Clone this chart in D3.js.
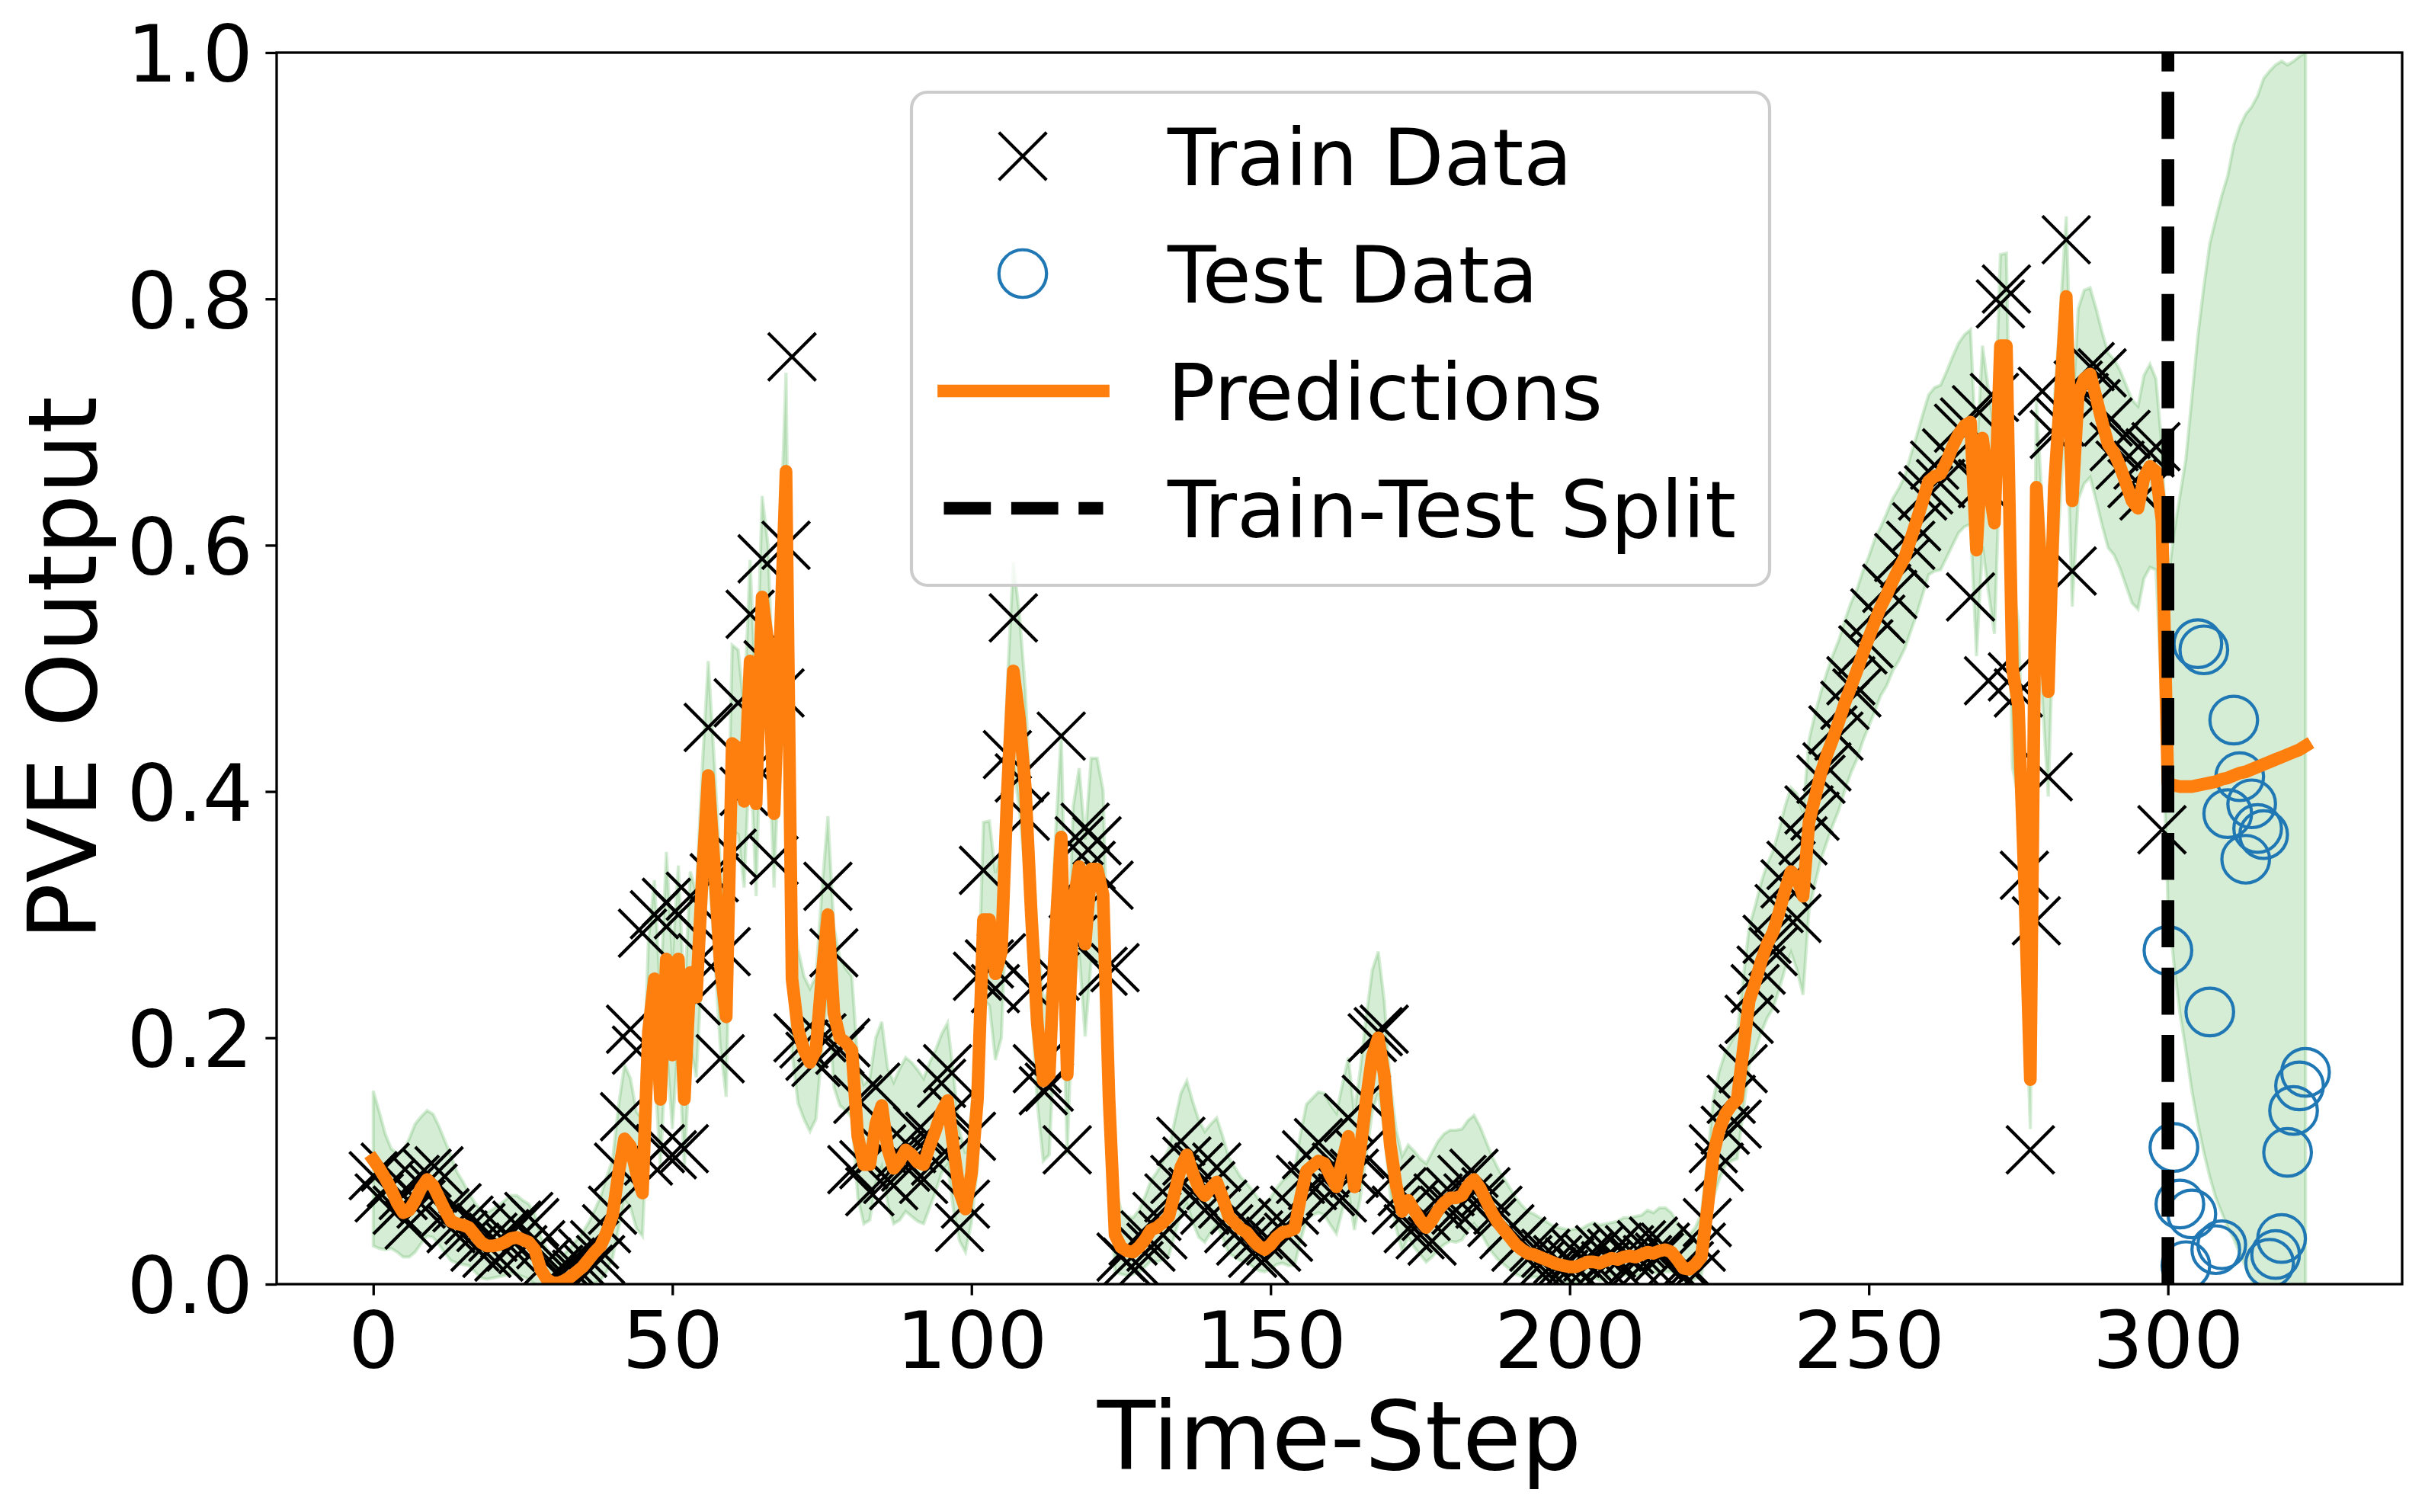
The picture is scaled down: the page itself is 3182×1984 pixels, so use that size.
<!DOCTYPE html>
<html>
<head>
<meta charset="utf-8">
<script src="https://cdn.jsdelivr.net/npm/d3@7"></script>
<style>
body { margin: 0; background: #fff; }
svg { display: block; }
text { font-family: "DejaVu Sans", sans-serif; fill: #000; }
</style>
</head>
<body>
<svg width="3182" height="1984"></svg>
<script>
var splitStep = 300;
var testStart = 300;
var xTicks = [0, 50, 100, 150, 200, 250, 300];
var yTicks = [0, 0.2, 0.4, 0.6, 0.8, 1.0];
var legendLabels = ["Train Data", "Test Data", "Predictions", "Train-Test Split"];

var trainValues = [
  0.088,0.070,0.095,0.082,0.060,0.072,0.048,0.085,0.065,0.090,
  0.078,0.092,0.058,0.045,0.062,0.040,0.052,0.030,0.046,0.025,
  0.038,0.022,0.041,0.030,0.048,0.028,0.055,0.050,0.032,0.018,
  0.005,0.012,0.002,0.018,0.008,0.025,0.012,0.032,0.020,0.045,
  0.060,0.095,0.136,0.207,0.190,0.285,0.100,0.300,0.110,0.310,
  0.105,0.300,0.110,0.315,0.230,0.265,0.452,0.330,0.183,0.270,
  0.350,0.472,0.400,0.544,0.420,0.589,0.503,0.344,0.480,0.600,
  0.753,0.200,0.195,0.185,0.180,0.200,0.323,0.269,0.190,0.196,
  0.093,0.150,0.097,0.075,0.160,0.110,0.085,0.080,0.105,0.095,
  0.110,0.125,0.085,0.120,0.100,0.163,0.175,0.140,0.046,0.065,
  0.120,0.250,0.336,0.260,0.240,0.265,0.430,0.541,0.411,0.380,
  0.240,0.175,0.157,0.160,0.250,0.445,0.109,0.280,0.360,0.371,
  0.340,0.360,0.254,0.324,0.257,0.022,0.018,0.035,0.015,0.040,
  0.030,0.055,0.040,0.070,0.085,0.116,0.100,0.075,0.095,0.060,
  0.080,0.095,0.065,0.045,0.060,0.035,0.050,0.025,0.040,0.020,
  0.035,0.030,0.050,0.038,0.060,0.085,0.105,0.080,0.115,0.090,
  0.075,0.095,0.070,0.135,0.090,0.105,0.150,0.200,0.205,0.207,
  0.085,0.060,0.075,0.045,0.065,0.040,0.055,0.035,0.070,0.060,
  0.075,0.060,0.085,0.070,0.090,0.065,0.075,0.050,0.060,0.040,
  0.045,0.030,0.035,0.020,0.030,0.015,0.025,0.010,0.020,0.008,
  0.018,0.025,0.010,0.022,0.012,0.028,0.015,0.025,0.030,0.012,
  0.028,0.018,0.032,0.020,0.035,0.022,0.030,0.018,0.010,0.005,
  0.015,0.008,0.030,0.050,0.110,0.095,0.125,0.150,0.130,0.175,
  0.215,0.240,0.255,0.280,0.270,0.305,0.325,0.340,0.297,0.360,
  0.385,0.380,0.410,0.420,0.450,0.445,0.470,0.490,0.480,0.515,
  0.520,0.545,0.540,0.565,0.560,0.590,0.585,0.600,0.615,0.640,
  0.645,0.665,0.650,0.675,0.670,0.695,0.700,0.558,0.710,0.650,
  0.490,0.720,0.796,0.808,0.493,0.480,0.332,0.109,0.295,0.725,
  0.412,0.690,0.700,0.848,0.579,0.730,0.720,0.745,0.715,0.740,
  0.700,0.680,0.665,0.690,0.650,0.665,0.640,0.675,0.680,0.369
];

var testValues = [
  0.271,0.111,0.065,0.015,0.057,0.520,0.515,0.221,0.028,0.032,
  0.382,0.458,0.412,0.345,0.390,0.370,0.365,0.017,0.024,0.037,
  0.107,0.141,0.161,0.172
];

var predValues = [
  0.101,0.094,0.086,0.077,0.066,0.058,0.060,0.068,0.078,0.085,
  0.080,0.070,0.060,0.051,0.049,0.048,0.046,0.040,0.034,0.031,
  0.031,0.032,0.034,0.037,0.038,0.036,0.034,0.028,0.012,0.004,
  0.001,0.001,0.003,0.006,0.010,0.014,0.020,0.026,0.031,0.042,
  0.056,0.090,0.118,0.112,0.090,0.074,0.205,0.248,0.150,0.264,
  0.186,0.264,0.150,0.253,0.233,0.330,0.413,0.340,0.260,0.217,
  0.439,0.435,0.392,0.506,0.390,0.558,0.520,0.382,0.520,0.660,
  0.248,0.207,0.190,0.180,0.190,0.250,0.300,0.220,0.200,0.196,
  0.190,0.120,0.097,0.097,0.130,0.145,0.110,0.094,0.100,0.109,
  0.105,0.099,0.097,0.112,0.125,0.140,0.149,0.110,0.075,0.061,
  0.090,0.150,0.296,0.296,0.252,0.270,0.400,0.498,0.460,0.403,
  0.300,0.212,0.165,0.170,0.280,0.363,0.170,0.308,0.339,0.276,
  0.337,0.337,0.316,0.150,0.040,0.030,0.027,0.026,0.030,0.036,
  0.044,0.046,0.050,0.055,0.075,0.095,0.105,0.090,0.078,0.072,
  0.078,0.083,0.070,0.055,0.050,0.045,0.042,0.036,0.031,0.028,
  0.032,0.038,0.042,0.043,0.045,0.070,0.092,0.096,0.100,0.098,
  0.088,0.079,0.100,0.120,0.079,0.110,0.150,0.185,0.200,0.170,
  0.113,0.080,0.059,0.068,0.060,0.052,0.046,0.052,0.060,0.066,
  0.070,0.070,0.072,0.080,0.085,0.078,0.068,0.058,0.050,0.044,
  0.038,0.032,0.028,0.025,0.024,0.022,0.020,0.018,0.016,0.015,
  0.014,0.014,0.016,0.018,0.018,0.017,0.019,0.021,0.020,0.022,
  0.023,0.022,0.024,0.026,0.025,0.027,0.028,0.026,0.020,0.013,
  0.012,0.016,0.022,0.060,0.105,0.125,0.138,0.145,0.150,0.190,
  0.230,0.245,0.262,0.276,0.286,0.302,0.320,0.335,0.330,0.315,
  0.375,0.395,0.415,0.430,0.443,0.457,0.472,0.485,0.498,0.512,
  0.525,0.538,0.550,0.560,0.571,0.581,0.590,0.605,0.620,0.636,
  0.652,0.656,0.658,0.668,0.680,0.690,0.697,0.700,0.596,0.687,
  0.650,0.618,0.762,0.762,0.500,0.470,0.330,0.166,0.647,0.560,
  0.481,0.647,0.720,0.802,0.636,0.722,0.735,0.739,0.720,0.700,
  0.682,0.675,0.664,0.650,0.636,0.630,0.655,0.664,0.660,0.620,
  0.407,0.405,0.404,0.404,0.404,0.405,0.406,0.407,0.408,0.410,
  0.411,0.413,0.415,0.416,0.418,0.420,0.422,0.424,0.426,0.428,
  0.430,0.432,0.434,0.437
];

// distance from the prediction to the upper / lower edge of the shaded band
var bandUp = [
  0.056,0.046,0.036,0.033,0.040,0.050,0.058,0.062,0.058,0.056,
  0.058,0.058,0.056,0.053,0.042,0.035,0.028,0.026,0.026,0.027,
  0.030,0.032,0.034,0.035,0.034,0.032,0.031,0.029,0.027,0.025,
  0.022,0.022,0.022,0.024,0.026,0.028,0.030,0.034,0.040,0.045,
  0.045,0.055,0.060,0.055,0.050,0.060,0.075,0.080,0.085,0.087,
  0.080,0.076,0.080,0.082,0.085,0.090,0.093,0.085,0.080,0.075,
  0.080,0.080,0.075,0.082,0.080,0.082,0.080,0.075,0.078,0.080,
  0.070,0.065,0.060,0.060,0.060,0.070,0.080,0.070,0.065,0.060,
  0.060,0.060,0.065,0.070,0.070,0.068,0.065,0.070,0.075,0.075,
  0.075,0.075,0.070,0.068,0.065,0.063,0.063,0.060,0.050,0.045,
  0.050,0.065,0.079,0.080,0.082,0.085,0.088,0.088,0.085,0.080,
  0.075,0.070,0.065,0.070,0.080,0.085,0.075,0.080,0.080,0.085,
  0.090,0.090,0.085,0.070,0.040,0.030,0.028,0.028,0.030,0.035,
  0.040,0.045,0.050,0.055,0.058,0.060,0.060,0.058,0.055,0.052,
  0.052,0.052,0.050,0.048,0.045,0.042,0.040,0.040,0.038,0.038,
  0.038,0.040,0.042,0.045,0.048,0.052,0.054,0.055,0.056,0.057,
  0.058,0.060,0.062,0.064,0.060,0.065,0.068,0.070,0.070,0.060,
  0.050,0.045,0.045,0.045,0.048,0.050,0.052,0.055,0.056,0.056,
  0.055,0.055,0.054,0.053,0.052,0.050,0.048,0.046,0.044,0.042,
  0.040,0.038,0.036,0.034,0.033,0.032,0.031,0.030,0.030,0.030,
  0.030,0.031,0.029,0.030,0.032,0.031,0.030,0.029,0.031,0.032,
  0.031,0.033,0.032,0.034,0.033,0.035,0.034,0.032,0.030,0.028,
  0.028,0.030,0.035,0.040,0.045,0.048,0.050,0.052,0.055,0.058,
  0.060,0.062,0.064,0.065,0.066,0.067,0.068,0.068,0.068,0.068,
  0.067,0.068,0.066,0.067,0.068,0.066,0.067,0.068,0.066,0.067,
  0.066,0.067,0.065,0.066,0.067,0.065,0.066,0.068,0.069,0.070,
  0.070,0.072,0.072,0.073,0.073,0.074,0.074,0.075,0.075,0.075,
  0.076,0.075,0.074,0.075,0.071,0.068,0.060,0.045,0.070,0.073,
  0.072,0.070,0.068,0.065,0.068,0.070,0.072,0.070,0.072,0.073,
  0.074,0.076,0.078,0.080,0.082,0.083,0.083,0.083,0.075,0.060,
  0.163,0.205,0.236,0.266,0.316,0.365,0.404,0.438,0.457,0.474,
  0.489,0.512,0.525,0.534,0.538,0.545,0.557,0.561,0.564,0.565,
  0.560,0.561,0.563,0.563
];

var bandLo = [
  0.070,0.065,0.058,0.048,0.040,0.036,0.038,0.042,0.045,0.046,
  0.042,0.038,0.035,0.032,0.032,0.032,0.031,0.030,0.029,0.027,
  0.026,0.026,0.027,0.028,0.030,0.030,0.030,0.028,0.014,0.006,
  0.003,0.003,0.005,0.008,0.012,0.016,0.020,0.025,0.028,0.032,
  0.035,0.045,0.050,0.050,0.045,0.035,0.060,0.070,0.055,0.070,
  0.060,0.065,0.055,0.060,0.065,0.070,0.070,0.068,0.067,0.065,
  0.070,0.070,0.070,0.070,0.075,0.070,0.065,0.060,0.065,0.070,
  0.060,0.060,0.056,0.056,0.056,0.060,0.065,0.060,0.055,0.055,
  0.055,0.050,0.048,0.045,0.048,0.050,0.045,0.045,0.048,0.050,
  0.050,0.048,0.048,0.050,0.050,0.050,0.052,0.050,0.040,0.035,
  0.040,0.055,0.065,0.070,0.070,0.070,0.075,0.075,0.075,0.070,
  0.070,0.065,0.065,0.065,0.070,0.075,0.065,0.070,0.070,0.075,
  0.075,0.075,0.070,0.060,0.030,0.022,0.020,0.018,0.020,0.022,
  0.025,0.028,0.030,0.032,0.035,0.038,0.040,0.040,0.040,0.038,
  0.036,0.035,0.032,0.030,0.028,0.026,0.024,0.022,0.020,0.018,
  0.020,0.022,0.025,0.028,0.030,0.035,0.040,0.040,0.042,0.042,
  0.040,0.038,0.040,0.045,0.035,0.040,0.045,0.045,0.045,0.045,
  0.040,0.035,0.032,0.030,0.030,0.028,0.028,0.030,0.032,0.034,
  0.035,0.036,0.036,0.036,0.036,0.035,0.034,0.032,0.030,0.028,
  0.026,0.024,0.022,0.020,0.018,0.017,0.016,0.015,0.014,0.013,
  0.013,0.013,0.014,0.014,0.013,0.014,0.015,0.014,0.015,0.015,
  0.016,0.015,0.016,0.017,0.016,0.018,0.018,0.016,0.013,0.010,
  0.010,0.012,0.015,0.025,0.035,0.040,0.042,0.045,0.048,0.050,
  0.052,0.055,0.058,0.060,0.062,0.063,0.064,0.066,0.075,0.080,
  0.072,0.070,0.070,0.071,0.070,0.072,0.071,0.070,0.072,0.071,
  0.072,0.073,0.072,0.074,0.073,0.075,0.074,0.075,0.076,0.076,
  0.076,0.077,0.078,0.078,0.080,0.080,0.082,0.083,0.086,0.088,
  0.088,0.090,0.088,0.085,0.080,0.075,0.060,0.040,0.080,0.085,
  0.085,0.086,0.086,0.085,0.086,0.085,0.085,0.084,0.084,0.084,
  0.084,0.083,0.083,0.083,0.083,0.082,0.082,0.082,0.080,0.150,
  0.099,0.145,0.184,0.214,0.247,0.275,0.299,0.320,0.338,0.352,
  0.365,0.376,0.390,0.402,0.415,0.430,0.445,0.460,0.470,0.480,
  0.490,0.500,0.510,0.520
];

function main(){
    var svg = d3.select("svg"),
        left = 363, right = 3152, top = 69, bottom = 1685,
        tickLen = 14.6, lw = 16.7, ms = 62.5;

    var x = d3.scaleLinear().domain([-16.15, 339.15]).range([left, right]),
        y = d3.scaleLinear().domain([0, 1]).range([bottom, top]);

    var trainData = trainValues.map(function(v, i){ return {t: i, v: v}; });
    var testData = testValues.map(function(v, i){ return {t: testStart + i, v: v}; });
    var predData = predValues.map(function(v, i){
        return {t: i, v: v, lo: v - bandLo[i], hi: v + bandUp[i]};
    });

    svg.append("defs").append("clipPath").attr("id", "plotClip")
        .append("rect")
        .attr("x", left).attr("y", top)
        .attr("width", right - left).attr("height", bottom - top);

    var plot = svg.append("g").attr("clip-path", "url(#plotClip)");

    var band = d3.area()
        .x(function(d){ return x(d.t); })
        .y0(function(d){ return y(d.lo); })
        .y1(function(d){ return y(d.hi); });

    plot.append("path")
        .datum(predData)
        .attr("d", band)
        .attr("fill", "#2ca02c").attr("fill-opacity", 0.2)
        .attr("stroke", "#2ca02c").attr("stroke-opacity", 0.2)
        .attr("stroke-width", 4.2);

    var h = ms / 2;
    var crossPath = "M" + (-h) + "," + (-h) + "L" + h + "," + h + "M" + (-h) + "," + h + "L" + h + "," + (-h);

    plot.selectAll(".train")
        .data(trainData)
        .enter().append("path")
        .attr("class", "train")
        .attr("transform", function(d){ return "translate(" + x(d.t) + "," + y(d.v) + ")"; })
        .attr("d", crossPath)
        .attr("stroke", "black")
        .attr("stroke-width", 4.2)
        .attr("fill", "none");

    plot.selectAll(".test")
        .data(testData)
        .enter().append("circle")
        .attr("class", "test")
        .attr("cx", function(d){ return x(d.t); })
        .attr("cy", function(d){ return y(d.v); })
        .attr("r", h)
        .attr("fill", "none")
        .attr("stroke", "#1f77b4")
        .attr("stroke-width", 4.2);

    var line = d3.line()
        .x(function(d){ return x(d.t); })
        .y(function(d){ return y(d.v); });

    plot.append("path")
        .datum(predData)
        .attr("d", line)
        .attr("fill", "none")
        .attr("stroke", "#ff7f0e")
        .attr("stroke-width", lw)
        .attr("stroke-linejoin", "round")
        .attr("stroke-linecap", "square");

    plot.append("line")
        .attr("x1", x(splitStep)).attr("x2", x(splitStep))
        .attr("y1", y(0)).attr("y2", y(1))
        .attr("stroke", "black")
        .attr("stroke-width", lw)
        .attr("stroke-dasharray", "61.7,26.7");

    // axes
    var xAxis = svg.append("g")
        .attr("transform", "translate(0," + bottom + ")")
        .call(d3.axisBottom(x).tickValues(xTicks).tickSize(tickLen).tickSizeOuter(0));
    xAxis.select(".domain").remove();
    xAxis.selectAll(".tick line").attr("stroke", "black").attr("stroke-width", 3.3);
    xAxis.selectAll(".tick text")
        .attr("y", 110).attr("dy", null)
        .attr("font-size", "104px")
        .attr("font-family", "DejaVu Sans");

    var yAxis = svg.append("g")
        .attr("transform", "translate(" + left + ",0)")
        .call(d3.axisLeft(y).tickValues(yTicks).tickSize(tickLen).tickSizeOuter(0)
            .tickFormat(d3.format(".1f")));
    yAxis.select(".domain").remove();
    yAxis.selectAll(".tick line").attr("stroke", "black").attr("stroke-width", 3.3);
    yAxis.selectAll(".tick text")
        .attr("x", -31).attr("dy", "0.365em")
        .attr("font-size", "104px")
        .attr("font-family", "DejaVu Sans");

    svg.append("rect")
        .attr("x", left).attr("y", top)
        .attr("width", right - left).attr("height", bottom - top)
        .attr("fill", "none")
        .attr("stroke", "black")
        .attr("stroke-width", 3.3);

    svg.append("text")
        .attr("x", (left + right) / 2)
        .attr("y", 1928)
        .attr("text-anchor", "middle")
        .attr("font-size", "125px")
        .text("Time-Step");

    svg.append("text")
        .attr("transform", "translate(126," + ((top + bottom) / 2) + ") rotate(-90)")
        .attr("text-anchor", "middle")
        .attr("font-size", "125px")
        .text("PVE Output");

    // legend
    var lg = svg.append("g");
    lg.append("rect")
        .attr("x", 1196).attr("y", 121)
        .attr("width", 1126).attr("height", 647)
        .attr("rx", 21).attr("ry", 21)
        .attr("fill", "white").attr("fill-opacity", 0.8)
        .attr("stroke", "#cccccc").attr("stroke-width", 4.2);

    var rowY = [205, 359, 513, 667], hx = 1342;

    lg.append("path")
        .attr("transform", "translate(" + hx + "," + rowY[0] + ")")
        .attr("d", crossPath)
        .attr("stroke", "black").attr("stroke-width", 4.2);
    lg.append("circle")
        .attr("cx", hx).attr("cy", rowY[1]).attr("r", h)
        .attr("fill", "none").attr("stroke", "#1f77b4").attr("stroke-width", 4.2);
    lg.append("line")
        .attr("x1", 1238.5).attr("x2", 1447.5)
        .attr("y1", rowY[2]).attr("y2", rowY[2])
        .attr("stroke", "#ff7f0e").attr("stroke-width", lw)
        .attr("stroke-linecap", "square");
    lg.append("line")
        .attr("x1", 1238.5).attr("x2", 1447.5)
        .attr("y1", rowY[3]).attr("y2", rowY[3])
        .attr("stroke", "black").attr("stroke-width", lw)
        .attr("stroke-dasharray", "61.7,26.7");

    lg.selectAll(".lgtext")
        .data(legendLabels)
        .enter().append("text")
        .attr("class", "lgtext")
        .attr("x", 1532)
        .attr("y", function(d, i){ return rowY[i] + 38; })
        .attr("font-size", "104px")
        .text(function(d){ return d; });
}
main();
</script>
</body>
</html>
